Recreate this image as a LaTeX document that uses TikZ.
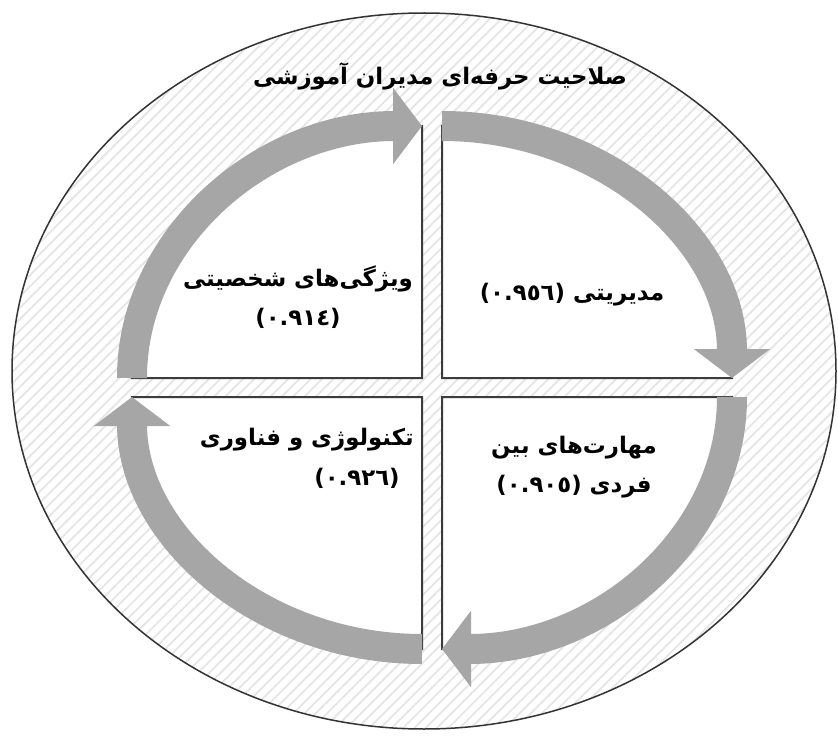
\documentclass[tikz,border=0pt]{standalone}
\usepackage{fontspec}
\newfontfamily\arabicfont[Script=Arabic]{DejaVu Sans}
\TeXXeTstate=1
\usetikzlibrary{arrows.meta,patterns.meta}
\definecolor{arcgray}{HTML}{A6A6A6}
\definecolor{edgegray}{HTML}{3C3C3C}

\begin{document}
\begin{tikzpicture}[x=0.2mm, y=0.2mm, x radius=290, y radius=252,
  cyc/.style={line width=6mm, draw=arcgray, -{Triangle[length=5.8mm, width=15mm]}},
  quad/.style={fill=white, draw=edgegray, line width=0.4mm},
  lbl/.style={font=\arabicfont\bfseries\fontsize{13}{22}\selectfont, align=center, inner sep=0pt}]
\fill[white] (0,0) rectangle (838,735);
\useasboundingbox (0,0) rectangle (838,735);
% ---------------- hatched ellipse
\draw[draw=black!80, line width=0.3mm, preaction={fill=white},
  pattern={Lines[angle=45, distance=1.6mm, line width=0.35mm]}, pattern color=black!10]
  (424,364) ellipse [x radius=412, y radius=358];
% ---------------- quadrant corners and arc ends
\coordinate (tlc) at (422,357); \coordinate (tl1) at (132,357); \coordinate (tl2) at (422,609);
\coordinate (trc) at (442,357); \coordinate (tr1) at (442,609); \coordinate (tr2) at (732,357);
\coordinate (brc) at (442,338); \coordinate (br1) at (732,338); \coordinate (br2) at (442,86);
\coordinate (blc) at (422,338); \coordinate (bl1) at (422,86);  \coordinate (bl2) at (132,338);
% ---------------- quadrants
\draw[quad] (tlc) -- (tl1) arc[start angle=180, end angle=90] -- cycle;
\draw[quad] (trc) -- (tr1) arc[start angle=90, end angle=0] -- cycle;
\draw[quad] (brc) -- (br1) arc[start angle=0, end angle=-90] -- cycle;
\draw[quad] (blc) -- (bl1) arc[start angle=-90, end angle=-180] -- cycle;
% ---------------- cycle arrows
\draw[cyc] (tl1) arc[start angle=180, end angle=90];
\draw[cyc] (tr1) arc[start angle=90, end angle=0];
\draw[cyc] (br1) arc[start angle=0, end angle=-90];
\draw[cyc] (bl1) arc[start angle=-90, end angle=-180];
% ---------------- labels
\node[lbl] (title) at (440,659) {\beginR صلاحیت حرفه‌ای مدیران آموزشی\endR};
\node[lbl] (pers) at (298,438) {\beginR ویژگی‌های شخصیتی\endR\\ \beginL(٠.٩١٤)\endL};
\node[lbl] (mgmt) at (572,440) {\beginR مدیریتی \beginL(٠.٩٥٦)\endL\endR};
\node[lbl] (inter) at (574,268) {\beginR مهارت‌های بین\endR\\ \beginR فردی \beginL(٠.٩٠٥)\endL\endR};
\node[lbl, anchor=east] (tech) at (414,295) {\beginR تکنولوژی و فناوری\endR};
\node[lbl] (techv) at (357,257) {\beginL(٠.٩٢٦)\endL};
\end{tikzpicture}
\end{document}
